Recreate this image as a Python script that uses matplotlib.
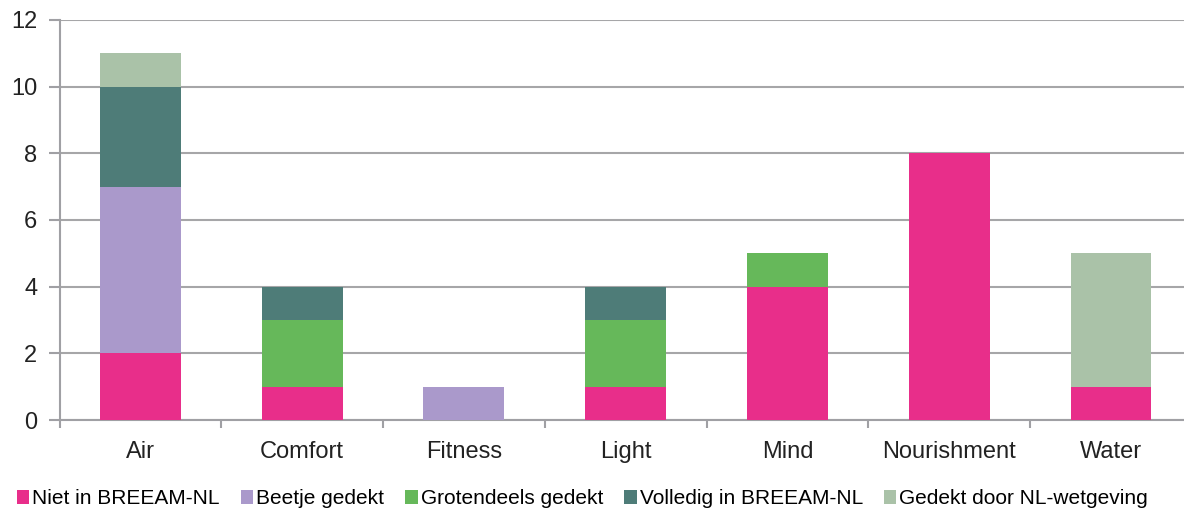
import numpy as np
import matplotlib
matplotlib.use("Agg")
import matplotlib.pyplot as plt

plt.rcParams["font.family"] = ["Liberation Sans", "DejaVu Sans"]

categories = ["Air", "Comfort", "Fitness", "Light", "Mind", "Nourishment", "Water"]

series_names = [
    "Niet in BREEAM-NL",
    "Beetje gedekt",
    "Grotendeels gedekt",
    "Volledig in BREEAM-NL",
    "Gedekt door NL-wetgeving",
]

niet = [2, 1, 0, 1, 4, 8, 1]
beetje = [5, 0, 1, 0, 0, 0, 0]
grotendeels = [0, 2, 0, 2, 1, 0, 0]
volledig = [3, 1, 0, 1, 0, 0, 0]
gedekt = [1, 0, 0, 0, 0, 0, 4]

colors = ["#E82E8A", "#AA99CB", "#66B85A", "#4E7C78", "#AAC2A8"]

fig = plt.figure(figsize=(11.84, 5.08), dpi=100)
ax = fig.add_axes([0.0503, 0.173, 0.9563, 0.788])

x = np.arange(len(categories))
bottom = np.zeros(len(categories))

for name, values, color in zip(
    series_names,
    [niet, beetje, grotendeels, volledig, gedekt],
    colors
):
    ax.bar(
        x,
        values,
        width=0.5,
        bottom=bottom,
        color=color,
        label=name,
        zorder=3
    )
    bottom = bottom + np.array(values)

ax.set_xlim(-0.5, 6.5)
ax.set_ylim(0, 12)
ax.set_yticks(range(0, 13, 2))
ax.set_xticks(x)
ax.set_xticklabels(categories)
ax.set_xticks(np.arange(-0.5, 7, 1), minor=True)

ax.tick_params(axis="x", which="major", length=0, pad=15, labelsize=17, colors="#222222")
ax.tick_params(axis="x", which="minor", length=6, width=1.5, color="#A0A0A4")
ax.tick_params(axis="y", length=8, width=1.5, color="#A0A0A4", labelsize=17, pad=8, labelcolor="#222222")

ax.grid(axis="y", color="#A6A6A8", linewidth=1.5, zorder=0)

for side in ["top", "right"]:
    ax.spines[side].set_visible(False)
for side in ["left", "bottom"]:
    ax.spines[side].set_color("#A0A0A4")
    ax.spines[side].set_linewidth(1.5)

fig.legend(
    loc="center",
    bbox_to_anchor=(0.492, 0.018),
    ncol=5,
    frameon=False,
    fontsize=15,
    handlelength=0.6,
    handleheight=0.6,
    handletextpad=0.15,
    columnspacing=1.0,
    borderaxespad=0
)

fig.savefig("out.png", dpi=100)
